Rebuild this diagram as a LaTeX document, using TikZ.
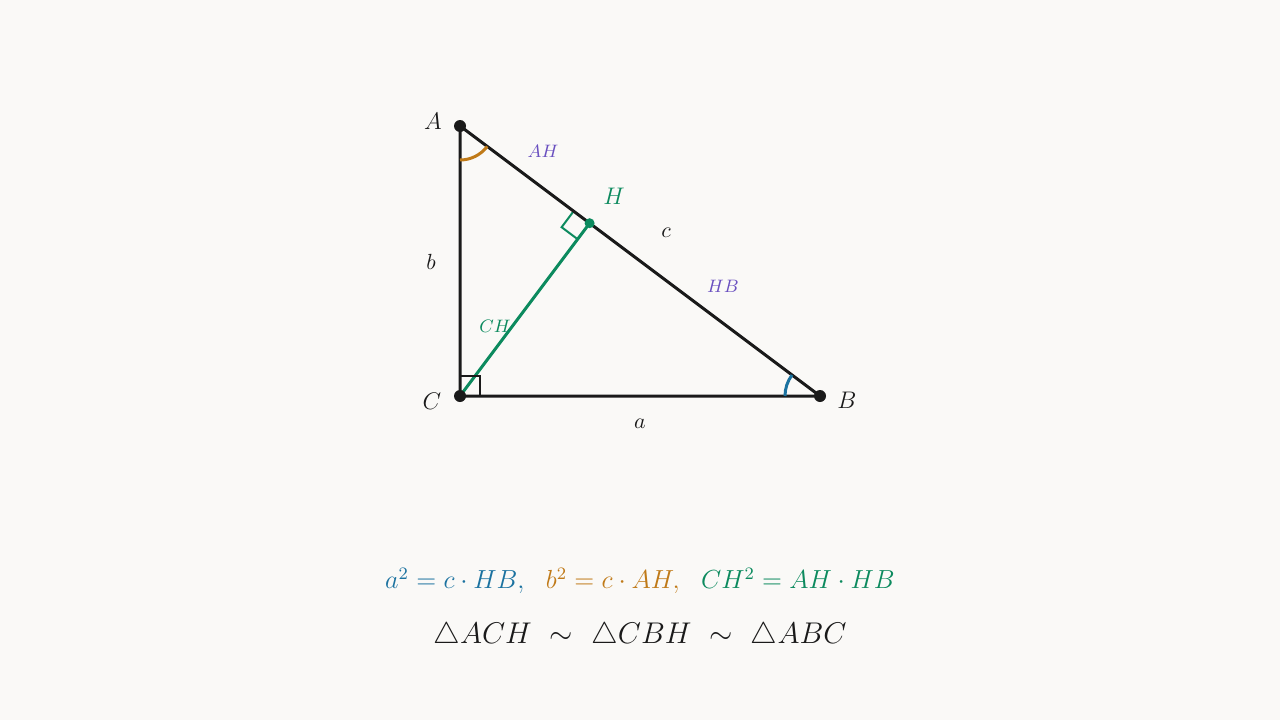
\documentclass[tikz,border=0pt]{standalone}
\usepackage{amsmath}
\usepackage{amssymb}
\usepackage{tikz}
\definecolor{bgcolor}{HTML}{FAF9F7}
\definecolor{colblue}{HTML}{1B72A0}
\definecolor{colorange}{HTML}{C07A18}
\definecolor{colgreen}{HTML}{0C8A5E}
\definecolor{colpurple}{HTML}{6A50C0}
\definecolor{colink}{HTML}{1A1A1A}
\usetikzlibrary{calc, positioning}

\begin{document}
\begin{tikzpicture}[x=0.5pt, y=0.5pt]

  \tikzstyle{side} = [%
  draw=colink,
  line width=1.5pt,
  line cap=round,
  ];

  \tikzstyle{vertex} = [%
  circle,
  fill=colink,
  inner sep=0pt,
  minimum size=6pt,
  ];

  \tikzstyle{vlabel} = [%
  font=\fontsize{12}{15}\selectfont,
  text=colink,
  ];

  \tikzstyle{slabel} = [%
  font=\fontsize{10.95}{12}\selectfont,
  text=colink,
  ];

  \tikzstyle{seglabel} = [%
  font=\fontsize{9}{11}\selectfont,
  text=colpurple,
  ];

  % background and frame
  \fill[bgcolor] (0,0) rectangle (1280,720);
  \useasboundingbox (0,0) rectangle (1280,720);

  % corners
  \coordinate (A) at (460,594);
  \coordinate (C) at (460,324);
  \coordinate (B) at (820,324);
  \coordinate (H) at ($(A)!0.36!(B)$);

  % altitude
  \draw[colgreen, line width=1.5pt] (C) -- (H);

  % right angle marks
  \draw[colink, line width=0.8pt] (C) ++(20,0) -- ++(0,20) -- ++(-20,0);
  \coordinate (Ha) at ($(H)!10pt!(A)$);
  \coordinate (Hc) at ($(H)!10pt!(C)$);
  \draw[colgreen, line width=1pt] (Ha) -- ($(Ha)+(Hc)-(H)$) -- (Hc);

  % triangle
  \draw[side] (A) -- (B) -- (C) -- cycle;

  % angles
  \draw[colorange, line width=1.5pt] ($(A)+(-90:34)$) arc[start angle=-90, end angle=-36.87, radius=34];
  \draw[colblue, line width=1.5pt] ($(B)+(143.13:35)$) arc[start angle=143.13, end angle=180, radius=35];

  % points
  \node[vertex] (nA) at (A) {};
  \node[vertex] (nB) at (B) {};
  \node[vertex] (nC) at (C) {};
  \node[vertex, fill=colgreen, minimum size=5pt] (nH) at (H) {};

  % vertex labels
  \node[vlabel] (lA) at (433,599) {$A$};
  \node[vlabel] (lB) at (847,320) {$B$};
  \node[vlabel] (lC) at (432,319) {$C$};
  \node[vlabel, text=colgreen] (lH) at (614,524) {$H$};

  % side labels
  \node[slabel] (la) at (640,296) {$a$};
  \node[slabel] (lb) at (431,458) {$b$};
  \node[slabel] (lc) at (666,487) {$c$};
  \node[seglabel] (lAH) at (543,569) {$AH$};
  \node[seglabel] (lHB) at (723,434) {$HB$};
  \node[seglabel, text=colgreen] (lCH) at (495,394) {$CH$};

  % relations
  \node[font=\fontsize{12}{15}\selectfont, scale=1.09] (rel) at (640,139)
  {$\color{colblue}a^2 = c\cdot HB,\ \ \color{colorange}b^2 = c\cdot AH,\ \ \color{colgreen}CH^2 = AH\cdot HB$};
  \node[font=\fontsize{14.4}{17}\selectfont, scale=1.04, text=colink] (sim) at (640,84)
  {$\triangle ACH\ \sim\ \triangle CBH\ \sim\ \triangle ABC$};

\end{tikzpicture}
\end{document}
